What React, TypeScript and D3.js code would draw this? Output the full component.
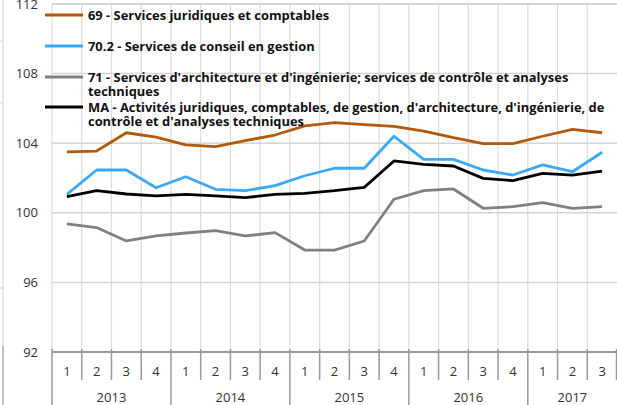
import React, { useEffect, useRef } from "react";
import * as d3 from "d3";

const years = ["2013", "2014", "2015", "2016", "2017"];
const quarters = [
  "2013-1", "2013-2", "2013-3", "2013-4",
  "2014-1", "2014-2", "2014-3", "2014-4",
  "2015-1", "2015-2", "2015-3", "2015-4",
  "2016-1", "2016-2", "2016-3", "2016-4",
  "2017-1", "2017-2", "2017-3",
];
const yTicks = [92, 96, 100, 104, 108, 112];

const s69 = [103.5, 103.55, 104.6, 104.35, 103.9, 103.8, 104.15, 104.47, 105.0, 105.18, 105.07, 104.97, 104.7, 104.32, 103.98, 103.98, 104.4, 104.8, 104.6];
const s702 = [101.06, 102.46, 102.46, 101.44, 102.07, 101.35, 101.27, 101.56, 102.13, 102.56, 102.56, 104.4, 103.07, 103.07, 102.46, 102.17, 102.75, 102.36, 103.48];
const s71 = [99.36, 99.15, 98.38, 98.67, 98.84, 98.97, 98.67, 98.86, 97.86, 97.86, 98.38, 100.78, 101.27, 101.37, 100.26, 100.35, 100.58, 100.26, 100.35];
const sMA = [100.93, 101.27, 101.08, 100.97, 101.06, 100.97, 100.87, 101.06, 101.12, 101.27, 101.46, 102.98, 102.78, 102.69, 101.98, 101.85, 102.27, 102.17, 102.4];

const series = [
  { name: ["69 - Services juridiques et comptables"], values: s69, color: "#b25a0c" },
  { name: ["70.2 - Services de conseil en gestion"], values: s702, color: "#3aa9f5" },
  {
    name: ["71 - Services d'architecture et d'ingénierie; services de contrôle et analyses", "techniques"],
    values: s71,
    color: "#808080",
  },
  {
    name: ["MA - Activités juridiques, comptables, de gestion, d'architecture, d'ingénierie, de", "contrôle et d'analyses techniques"],
    values: sMA,
    color: "#000000",
  },
];

const App = () => {
  const svgRef = useRef<SVGSVGElement>(null);

  useEffect(() => {
    const width = 617;
    const height = 405;
    const left = 52;
    const right = 617;
    const top = 4;
    const bottom = 352;
    const font = "'Open Sans', sans-serif";

    const svg = d3.select(svgRef.current).attr("width", width).attr("height", height);
    svg.selectAll("*").remove();

    const x = d3.scaleBand().domain(quarters).range([left, right]);
    const y = d3.scaleLinear().domain([92, 112]).range([bottom, top]);
    const cx = (i: number) => (x(quarters[i]) as number) + x.bandwidth() / 2;

    // remnants of a neighbouring frame at the left edge
    const edge = svg.append("g");
    edge.append("line").attr("x1", 3).attr("x2", 3).attr("y1", 0).attr("y2", 346)
      .attr("stroke", "#d9d9d9").attr("stroke-width", 1.2);
    edge.append("line").attr("x1", 3).attr("x2", 3).attr("y1", 346).attr("y2", height)
      .attr("stroke", "#999").attr("stroke-width", 1.2);
    [41, 103, 288].forEach((yy) =>
      edge.append("line").attr("x1", 0).attr("x2", 3).attr("y1", yy).attr("y2", yy)
        .attr("stroke", "#d9d9d9").attr("stroke-width", 1.2)
    );

    // gridlines
    const grid = svg.append("g");
    grid.selectAll(".v")
      .data(quarters)
      .join("line")
      .attr("x1", (d) => x(d) as number)
      .attr("x2", (d) => x(d) as number)
      .attr("y1", top)
      .attr("y2", bottom)
      .attr("stroke", "#dcdcdc")
      .attr("stroke-width", 1.2);
    grid.selectAll(".h")
      .data(yTicks.slice(1))
      .join("line")
      .attr("x1", left)
      .attr("x2", right)
      .attr("y1", (d) => y(d))
      .attr("y2", (d) => y(d))
      .attr("stroke", "#d4d4d4")
      .attr("stroke-width", (d) => (d === 112 ? 2 : 1.5));

    // y labels
    svg.append("g")
      .selectAll("text")
      .data(yTicks)
      .join("text")
      .attr("x", 38)
      .attr("y", (d) => y(d))
      .attr("dy", "0.35em")
      .attr("text-anchor", "end")
      .attr("font-family", font)
      .attr("font-size", 13)
      .attr("fill", "#333")
      .text((d) => d);

    // x axis
    const ax = svg.append("g");
    ax.append("line").attr("x1", left).attr("x2", right).attr("y1", bottom).attr("y2", bottom)
      .attr("stroke", "#999").attr("stroke-width", 2);
    const bounds = [...quarters.map((q) => x(q) as number), right - 0.5];
    ax.selectAll(".tk")
      .data(bounds)
      .join("line")
      .attr("x1", (d) => d)
      .attr("x2", (d) => d)
      .attr("y1", bottom - 3)
      .attr("y2", (d, i) => (i % 4 === 0 ? height : 380))
      .attr("stroke", "#999")
      .attr("stroke-width", 1.5);
    ax.selectAll(".ql")
      .data(quarters)
      .join("text")
      .attr("x", (d) => (x(d) as number) + x.bandwidth() / 2)
      .attr("y", 371)
      .attr("dy", "0.35em")
      .attr("text-anchor", "middle")
      .attr("font-family", font)
      .attr("font-size", 13)
      .attr("fill", "#333")
      .text((d) => d.split("-")[1]);
    ax.selectAll(".yl")
      .data(years)
      .join("text")
      .attr("x", (d) => {
        const qs = quarters.filter((q) => q.startsWith(d));
        const a = x(qs[0]) as number;
        const b = (x(qs[qs.length - 1]) as number) + x.bandwidth();
        return (a + b) / 2;
      })
      .attr("y", 397)
      .attr("dy", "0.35em")
      .attr("text-anchor", "middle")
      .attr("font-family", font)
      .attr("font-size", 13)
      .attr("fill", "#333")
      .text((d) => d);

    // lines
    const line = d3.line<number>().x((d, i) => cx(i)).y((d) => y(d));
    svg.append("g")
      .selectAll("path")
      .data(series)
      .join("path")
      .attr("fill", "none")
      .attr("stroke", (d) => d.color)
      .attr("stroke-width", 2.8)
      .attr("stroke-linejoin", "round")
      .attr("d", (d) => line(d.values));

    // legend
    const lg = svg.append("g");
    const ly = [15, 46, 77, 107];
    series.forEach((s, i) => {
      lg.append("line").attr("x1", 45).attr("x2", 83).attr("y1", ly[i]).attr("y2", ly[i])
        .attr("stroke", s.color).attr("stroke-width", 3);
      const t = lg.append("text")
        .attr("x", 88)
        .attr("y", ly[i])
        .attr("font-family", font)
        .attr("font-weight", "bold")
        .attr("font-size", 12.9)
        .attr("fill", "#111");
      s.name.forEach((n, j) =>
        t.append("tspan").attr("x", 88).attr("dy", j === 0 ? "0.35em" : 14.5).text(n)
      );
    });
  }, []);

  return <svg ref={svgRef} style={{ position: "absolute", left: 0, top: 0, background: "#fff" }}></svg>;
};

export default App;
